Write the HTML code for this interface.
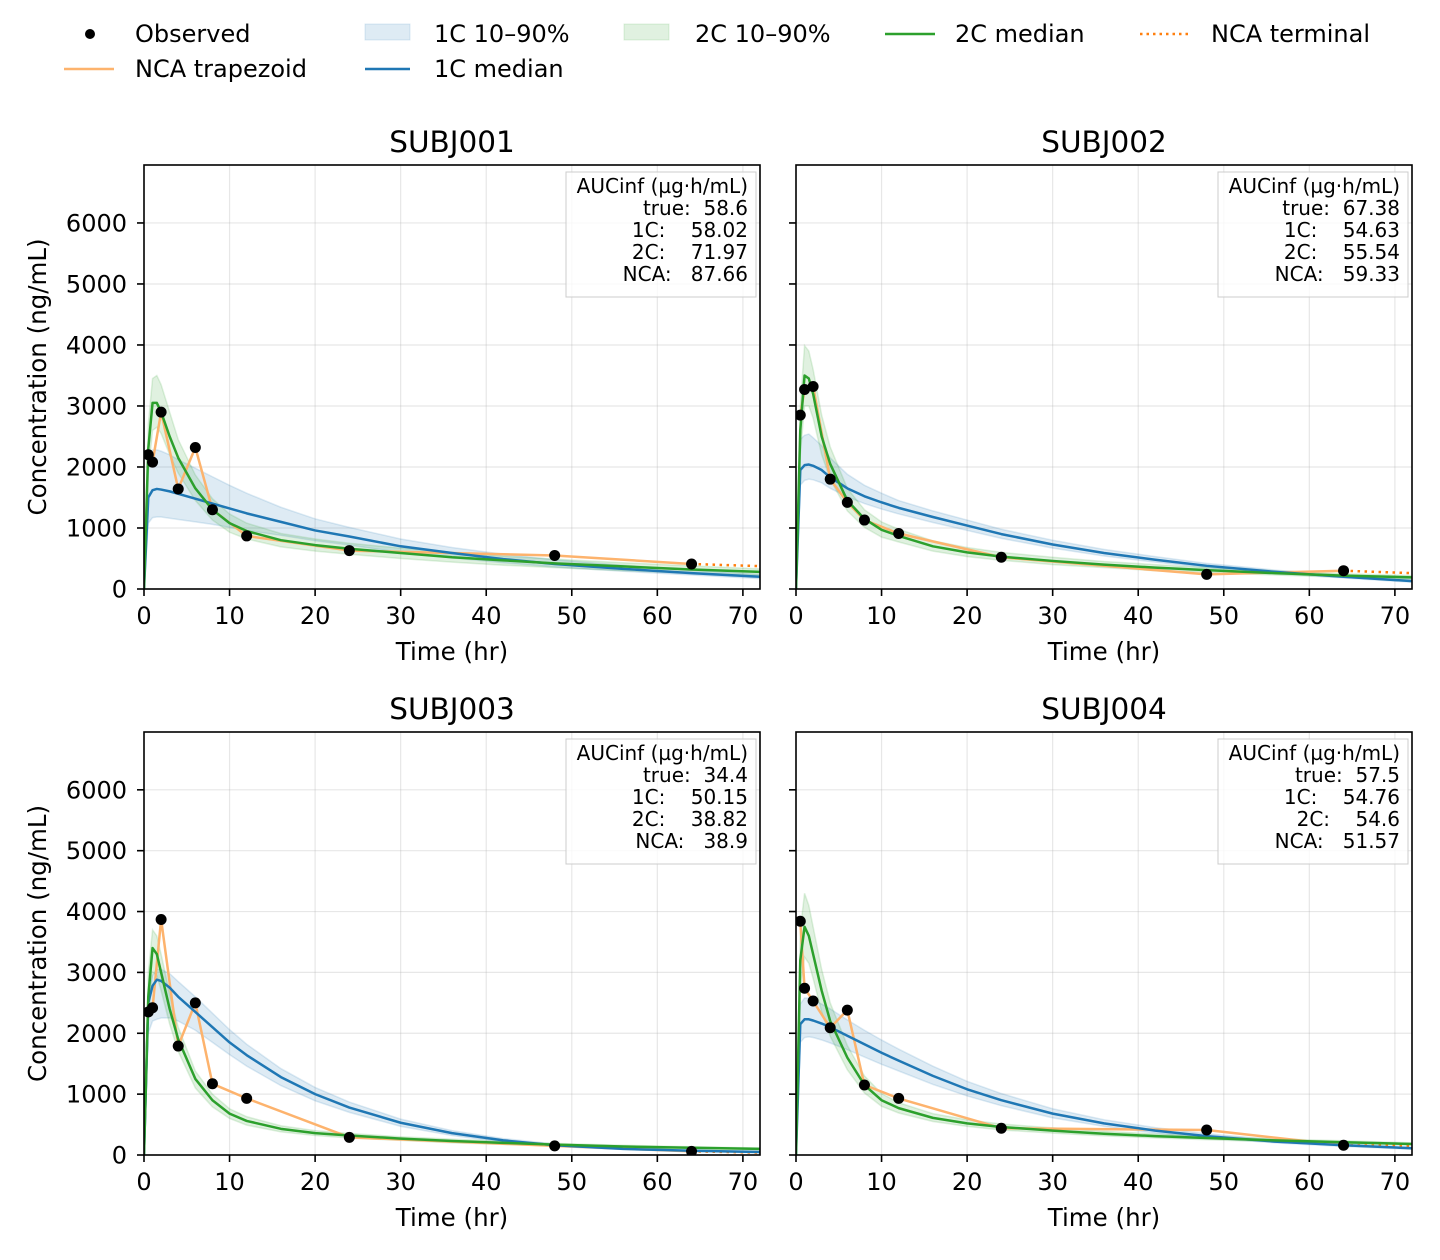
<!DOCTYPE html>
<html><head><meta charset="utf-8">
<style>
html,body{margin:0;padding:0;background:#fff;}
svg{display:block;font-family:"DejaVu Sans","Liberation Sans",sans-serif;}
</style></head>
<body>
<svg id="chart" width="1440" height="1260" viewBox="0 0 1440 1260" xmlns="http://www.w3.org/2000/svg">
  <g id="legend">
    <g><circle cx="90" cy="34" r="5" fill="#000"/><text x="135" y="42" font-size="24">Observed</text></g>
    <g><rect x="365" y="24" width="45" height="16" fill="#1f77b4" fill-opacity="0.15" stroke="#1f77b4" stroke-opacity="0.15"/><text x="434" y="42" font-size="24">1C 10–90%</text></g>
    <g><rect x="624" y="24" width="45" height="16" fill="#2ca02c" fill-opacity="0.15" stroke="#2ca02c" stroke-opacity="0.15"/><text x="695" y="42" font-size="24">2C 10–90%</text></g>
    <g><line x1="885" y1="34" x2="935" y2="34" stroke="#2ca02c" stroke-width="2.5"/><text x="955" y="42" font-size="24">2C median</text></g>
    <g><line x1="1140" y1="34" x2="1190" y2="34" stroke="#ff7f0e" stroke-width="2.5" stroke-dasharray="2.5,4"/><text x="1211" y="42" font-size="24">NCA terminal</text></g>
    <g><line x1="64" y1="69" x2="114" y2="69" stroke="#fdb36d" stroke-width="2.5"/><text x="135" y="77" font-size="24">NCA trapezoid</text></g>
    <g><line x1="365" y1="69" x2="410" y2="69" stroke="#1f77b4" stroke-width="2.5"/><text x="434" y="77" font-size="24">1C median</text></g>
  </g>
</svg>
<script>
const subjects = ["SUBJ001","SUBJ002","SUBJ003","SUBJ004"];
const modelTimes = [0,0.5,1,1.5,2,3,4,6,8,10,12,16,20,24,30,36,42,48,56,64,72];
const obsTimes = [0.5,1,2,4,6,8,12,24,48,64];
const xTicks = [0,10,20,30,40,50,60,70];
const yTicks = [0,1000,2000,3000,4000,5000,6000];
const yTickLabels = ["0","1000","2000","3000","4000","5000","6000"];

const obsConc = [
 [2200,2080,2900,1640,2320,1300,870,630,550,410],
 [2850,3270,3320,1800,1420,1130,910,520,240,300],
 [2350,2420,3870,1790,2500,1170,930,290,150,60],
 [3840,2740,2530,2090,2380,1150,930,440,410,160]
];
const terminalEnd = [375,260,40,150];

const med1C = [
 [0,1500,1620,1640,1630,1600,1560,1480,1400,1320,1240,1100,960,860,700,590,490,410,330,260,200],
 [0,1950,2030,2040,2020,1950,1830,1650,1520,1420,1330,1180,1040,900,730,590,480,380,280,200,130],
 [0,2500,2780,2880,2860,2750,2600,2350,2100,1850,1640,1280,1000,780,530,360,240,160,100,70,50],
 [0,2150,2230,2230,2210,2160,2100,1960,1820,1680,1550,1300,1080,900,680,520,400,310,220,160,110]
];
const lo1C = [
 [0,1080,1170,1180,1180,1160,1140,1100,1060,1010,960,880,790,720,600,510,430,360,290,230,170],
 [0,1700,1780,1800,1790,1740,1650,1510,1400,1310,1230,1090,960,830,670,540,440,350,260,180,110],
 [0,2000,2200,2230,2250,2250,2200,2050,1850,1650,1460,1140,890,700,470,320,210,140,90,60,40],
 [0,1850,1930,1940,1930,1890,1840,1730,1610,1490,1380,1160,970,810,610,470,360,280,200,140,95]
];
const hi1C = [
 [0,2150,2280,2280,2260,2200,2120,1980,1840,1700,1570,1340,1150,1010,820,680,570,480,390,310,240],
 [0,2450,2520,2540,2480,2350,2150,1880,1700,1570,1450,1280,1130,980,800,650,530,420,310,220,150],
 [0,2700,2950,3050,3050,2980,2850,2600,2330,2060,1820,1420,1110,870,590,400,270,180,115,80,60],
 [0,2480,2580,2580,2550,2480,2400,2220,2050,1890,1740,1460,1210,1010,760,580,450,350,250,180,130]
];
const med2C = [
 [0,2300,3050,3050,2900,2500,2150,1650,1300,1080,950,800,720,660,590,520,470,420,370,320,280],
 [0,2600,3500,3450,3200,2500,2050,1450,1150,970,870,700,600,530,460,400,350,310,260,220,190],
 [0,2600,3400,3300,3000,2400,1900,1250,900,680,560,430,360,320,270,230,200,170,140,120,100],
 [0,3200,3750,3600,3300,2700,2200,1600,1150,900,770,610,520,460,400,350,310,280,240,210,180]
];
const lo2C = [
 [0,1900,2600,2650,2550,2200,1900,1450,1130,930,820,690,620,570,500,440,390,350,300,260,220],
 [0,2200,3000,3000,2800,2200,1800,1280,1010,850,770,620,530,470,400,350,300,270,230,190,160],
 [0,2200,3000,2950,2700,2150,1700,1100,790,600,490,380,320,280,240,200,175,150,125,105,85],
 [0,2700,3250,3150,2900,2350,1950,1400,1020,800,690,550,470,410,360,315,280,250,215,185,160]
];
const hi2C = [
 [0,2700,3450,3500,3350,2900,2450,1870,1480,1230,1080,910,820,750,670,600,540,490,430,380,330],
 [0,3000,3990,3900,3600,2850,2330,1650,1300,1100,980,790,680,600,520,450,400,350,300,250,220],
 [0,3000,3700,3600,3300,2650,2100,1380,1000,760,630,480,400,355,300,260,225,190,160,135,115],
 [0,3700,4300,4100,3750,3050,2500,1800,1300,1010,860,680,580,510,445,390,345,310,265,235,200]
];
const aucTrue = ["58.6","67.38","34.4","57.5"];
const auc1C = ["58.02","54.63","50.15","54.76"];
const auc2C = ["71.97","55.54","38.82","54.6"];
const aucNCA = ["87.66","59.33","38.9","51.57"];

const NS = "http://www.w3.org/2000/svg";
const svg = document.getElementById("chart");
const panels = [
 {x0:144,x1:760,y0:165,y1:589},
 {x0:796,x1:1412,y0:165,y1:589},
 {x0:144,x1:760,y0:732,y1:1155},
 {x0:796,x1:1412,y0:732,y1:1155}
];
const X_MAX = 72, Y_MAX = 6950;

function mk(tag, attrs, parent){
  const e = document.createElementNS(NS, tag);
  for (const k in attrs) e.setAttribute(k, attrs[k]);
  parent.appendChild(e);
  return e;
}

panels.forEach((p, i) => {
  const sx = t => p.x0 + (t / X_MAX) * (p.x1 - p.x0);
  const sy = v => p.y1 - (v / Y_MAX) * (p.y1 - p.y0);
  const g = mk("g", {}, svg);
  
  

  const grid = mk("g", {}, g);
  
  
  xTicks.forEach(t => mk("line", {x1:sx(t), x2:sx(t), y1:p.y0, y2:p.y1, stroke:"#b0b0b0", "stroke-opacity":0.3, "stroke-width":1.2}, grid));
  yTicks.forEach(v => mk("line", {x1:p.x0, x2:p.x1, y1:sy(v), y2:sy(v), stroke:"#b0b0b0", "stroke-opacity":0.3, "stroke-width":1.2}, grid));

  const clip = mk("clipPath", {id:"clip"+i}, g);
  mk("rect", {x:p.x0, y:p.y0, width:p.x1-p.x0, height:p.y1-p.y0}, clip);
  const plot = mk("g", {"clip-path":"url(#clip"+i+")"}, g);

  function band(lo, hi, color, name){
    let d = "M" + modelTimes.map((t,k)=>sx(t)+","+sy(hi[k])).join("L");
    d += "L" + modelTimes.slice().reverse().map((t,k)=>sx(t)+","+sy(lo[modelTimes.length-1-k])).join("L") + "Z";
    const e = mk("path", {d:d, fill:color, "fill-opacity":0.15, stroke:color, "stroke-opacity":0.15, "stroke-width":1.5}, plot);
    
    
  }
  function line(ts, vs, color, name, extra){
    const d = "M" + ts.map((t,k)=>sx(t)+","+sy(vs[k])).join("L");
    const e = mk("path", Object.assign({d:d, fill:"none", stroke:color, "stroke-width":2.5, "stroke-linejoin":"round"}, extra||{}), plot);
    
    
  }
  band(lo1C[i], hi1C[i], "#1f77b4", "band-1c");
  band(lo2C[i], hi2C[i], "#2ca02c", "band-2c");
  line(obsTimes, obsConc[i], "#fdb36d", "nca-trapezoid-line");
  line([obsTimes[obsTimes.length-1], X_MAX], [obsConc[i][obsConc[i].length-1], terminalEnd[i]], "#ff7f0e", "nca-terminal-line", {"stroke-dasharray":"2.5,4.5"});
  line(modelTimes, med1C[i], "#1f77b4", "median-1c-line");
  line(modelTimes, med2C[i], "#2ca02c", "median-2c-line");
  obsTimes.forEach((t,k) => {
    const c = mk("circle", {cx:sx(t), cy:sy(obsConc[i][k]), r:5.5, fill:"#000"}, plot);
    
    
  });

  mk("rect", {x:p.x0, y:p.y0, width:p.x1-p.x0, height:p.y1-p.y0, fill:"none", stroke:"#000", "stroke-width":1.6}, g);

  const xa = mk("g", {}, g);
  
  
  xTicks.forEach(t => {
    mk("line", {x1:sx(t), x2:sx(t), y1:p.y1, y2:p.y1+7, stroke:"#000", "stroke-width":1.6}, xa);
    const tx = mk("text", {x:sx(t), y:p.y1+35, "font-size":24, "text-anchor":"middle"}, xa);
    tx.textContent = String(t);
  });
  const xl = mk("text", {x:(p.x0+p.x1)/2, y:p.y1+71, "font-size":24.5, "text-anchor":"middle"}, g);
  xl.textContent = "Time (hr)";
  
  

  const ya = mk("g", {}, g);
  
  
  yTicks.forEach((v,k) => {
    mk("line", {x1:p.x0-7, x2:p.x0, y1:sy(v), y2:sy(v), stroke:"#000", "stroke-width":1.6}, ya);
    if (i % 2 === 0) {
      const ty = mk("text", {x:p.x0-17, y:sy(v)+8.5, "font-size":24, "text-anchor":"end"}, ya);
      ty.textContent = yTickLabels[k];
    }
  });
  if (i % 2 === 0) {
    const cy = (p.y0+p.y1)/2;
    const yl = mk("text", {x:46, y:cy, "font-size":24.5, "text-anchor":"middle", transform:"rotate(-90 46 "+cy+")"}, g);
    yl.textContent = "Concentration (ng/mL)";
    
    
  }

  const tt = mk("text", {x:(p.x0+p.x1)/2, y:p.y0-13, "font-size":29.5, "text-anchor":"middle"}, g);
  tt.textContent = subjects[i];
  
  

  const bx = mk("g", {}, g);
  
  
  mk("rect", {x:p.x1-194, y:p.y0+7, width:190, height:125, fill:"#fff", "fill-opacity":0.8, stroke:"#ccc", "stroke-width":1}, bx);
  const lines = ["AUCinf (µg·h/mL)", "true:  "+aucTrue[i], "1C:    "+auc1C[i], "2C:    "+auc2C[i], "NCA:   "+aucNCA[i]];
  lines.forEach((s,k) => {
    const t = mk("text", {x:p.x1-12, y:p.y0+28+k*22, "font-size":20, "text-anchor":"end", "xml:space":"preserve"}, bx);
    t.style.whiteSpace = "pre";
    t.textContent = s;
  });
});
</script>
</body></html>
